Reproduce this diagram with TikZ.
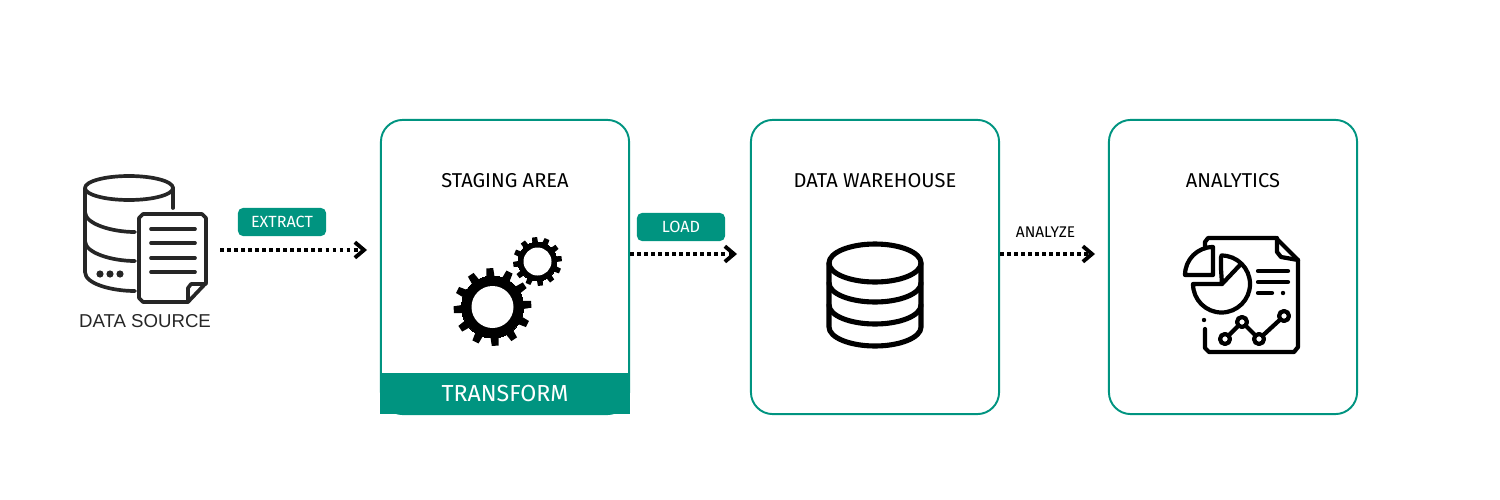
\documentclass[tikz,border=0pt]{standalone}
\usepackage{fontspec}
\usepackage{xcolor}
\usetikzlibrary{arrows.meta}
\setmainfont{Fira Sans}
\newfontfamily\sourcefont{Liberation Sans}
\definecolor{pipeteal}{HTML}{009480}
\definecolor{icongray}{HTML}{262626}
\tikzset{
    panelbox/.style={draw=pipeteal,line width=0.55pt,rounded corners=6.2pt,
        minimum width=2.48cm,minimum height=2.94cm},
    bandbox/.style={fill=pipeteal,text=white,minimum width=2.5cm,minimum height=0.41cm,
        inner sep=0pt,font=\fontsize{6.6}{8}\selectfont},
    tagbox/.style={fill=pipeteal,text=white,rounded corners=1.4pt,minimum width=0.88cm,
        minimum height=0.28cm,inner sep=0pt,font=\fontsize{4.6}{6}\selectfont},
    titlelabel/.style={inner sep=0pt,font=\fontsize{5.7}{7}\selectfont},
    flowline/.style={line width=1pt,dash pattern=on 1.1pt off 0.9pt,
        -{Straight Barb[length=2.6pt,width=4.4pt,line width=1.1pt]}},
    iconline/.style={line width=#1,line cap=round,line join=round}
}
\begin{document}
\begin{tikzpicture}[x=0.01cm,y=-0.01cm]
    \useasboundingbox (0,0) rectangle (1500,500);

    % Panels
    \node [panelbox] (staging) at (505,267) {};
    \node [panelbox] (warehouse) at (875,267) {};
    \node [panelbox] (analytics) at (1233,267) {};
    \node [bandbox,anchor=south] (transform) at (505,415) {TRANSFORM};

    % Titles
    \node [titlelabel] (stagingtitle) at (505,181) {STAGING AREA};
    \node [titlelabel] (warehousetitle) at (875,181) {DATA WAREHOUSE};
    \node [titlelabel] (analyticstitle) at (1233,181) {ANALYTICS};
    \node [inner sep=0pt,text=icongray,font=\sourcefont\fontsize{5.3}{7}\selectfont]
        (sourcetitle) at (145,321) {DATA SOURCE};

    % Tags
    \node [tagbox] (extracttag) at (282,222) {EXTRACT};
    \node [tagbox] (loadtag) at (681,227) {LOAD};
    \node [inner sep=0pt,font=\fontsize{4.4}{6}\selectfont] (analyzetag) at (1045.5,232) {ANALYZE};

    % Flow arrows
    \coordinate (extractstart) at (220,250);
    \coordinate (extractend) at (367,250);
    \coordinate (loadend) at (737,254);
    \coordinate (analyzeend) at (1095,254);
    \draw [flowline] (extractstart) -- (extractend);
    \draw [flowline] (staging.east |- loadend) -- (loadend);
    \draw [flowline] (warehouse.east |- analyzeend) -- (analyzeend);

    % Data source icon
    \begin{scope}[icongray,iconline=1.05pt]
        \draw (129,188) ellipse [x radius=44,y radius=12];
        \draw (173,188) -- (173,208);
        \draw (85,188) -- (85,272) .. controls (85,284) and (112,291) .. (135,291);
        \draw (85,212) .. controls (85,224) and (112,232) .. (135,232);
        \draw (85,241) .. controls (85,253) and (112,261) .. (135,261);
        \draw (143,214) -- (202,214) -- (206,218) -- (206,283) -- (188,302)
            -- (143,302) -- (139,298) -- (139,218) -- cycle;
        \draw (206,284) -- (191,284) -- (188,288) -- (188,302);
        \foreach \liney in {229,243,258,272}
            \draw (151,\liney) -- (195,\liney);
        \foreach \dotx in {100,110,120}
            \fill (\dotx,274) circle [radius=3.6];
    \end{scope}

    % Gears
    \foreach \gearx/\geary/\gearhole/\gearroot/\geartip/\gearrot/\gearw/\gearv in
        {537.5/261.5/14/19.5/24.5/7/9/6,492.5/307/21/31/39/4/8/5} {
        \begin{scope}[shift={(\gearx,\geary)}]
            \foreach \a in {0,30,...,330}
                \fill [rotate=\gearrot+\a] (-\gearw:\gearroot-1) -- (-\gearv:\geartip)
                    -- (\gearv:\geartip) -- (\gearw:\gearroot-1) -- cycle;
            \draw [black,line width=0pt,fill=black] (0,0) circle [radius=\gearroot];
            \fill [white] (0,0) circle [radius=\gearhole];
        \end{scope}
    }

    % Warehouse icon
    \begin{scope}[iconline=1.45pt]
        \draw (875,263) ellipse [x radius=46,y radius=19];
        \draw (829,263) -- (829,327) arc [start angle=180,end angle=0,x radius=46,y radius=19] -- (921,263);
        \draw (829,283) arc [start angle=180,end angle=0,x radius=46,y radius=19];
        \draw (829,305) arc [start angle=180,end angle=0,x radius=46,y radius=19];
    \end{scope}

    % Analytics icon
    \begin{scope}[iconline=1.2pt]
        \draw (1205,246) -- (1205,242) -- (1208,238) -- (1276,238) -- (1298,260)
            -- (1298,347) -- (1294,352) -- (1209,352) -- (1205,348) -- (1205,329);
        \draw (1277,238) -- (1277,252) -- (1281,257) -- (1298,260);
        \fill (1204,320) circle [radius=2.2];
        % Pie
        \draw (1213,247) -- (1213,275) -- (1185,275)
            arc [start angle=180,end angle=270,radius=28];
        \draw (1221,257) -- (1221,269) -- (1222,284) -- (1193,284)
            arc [start angle=180,end angle=-90,radius=28.5];
        \draw (1222,284) -- (1240,265);
        % Text lines
        \draw (1258,271) -- (1288,271);
        \draw (1258,282) -- (1288,282);
        \draw (1258,293) -- (1272,293);
        \fill (1283,293) circle [radius=2.2];
        % Chart
        \draw (1225,339) -- (1242,322) -- (1259,339) -- (1284,316);
        \foreach \chartx/\charty in {1225/339,1242/322,1259/339,1284/316}
            \draw [fill=white] (\chartx,\charty) circle [radius=5];
    \end{scope}
\end{tikzpicture}
\end{document}
